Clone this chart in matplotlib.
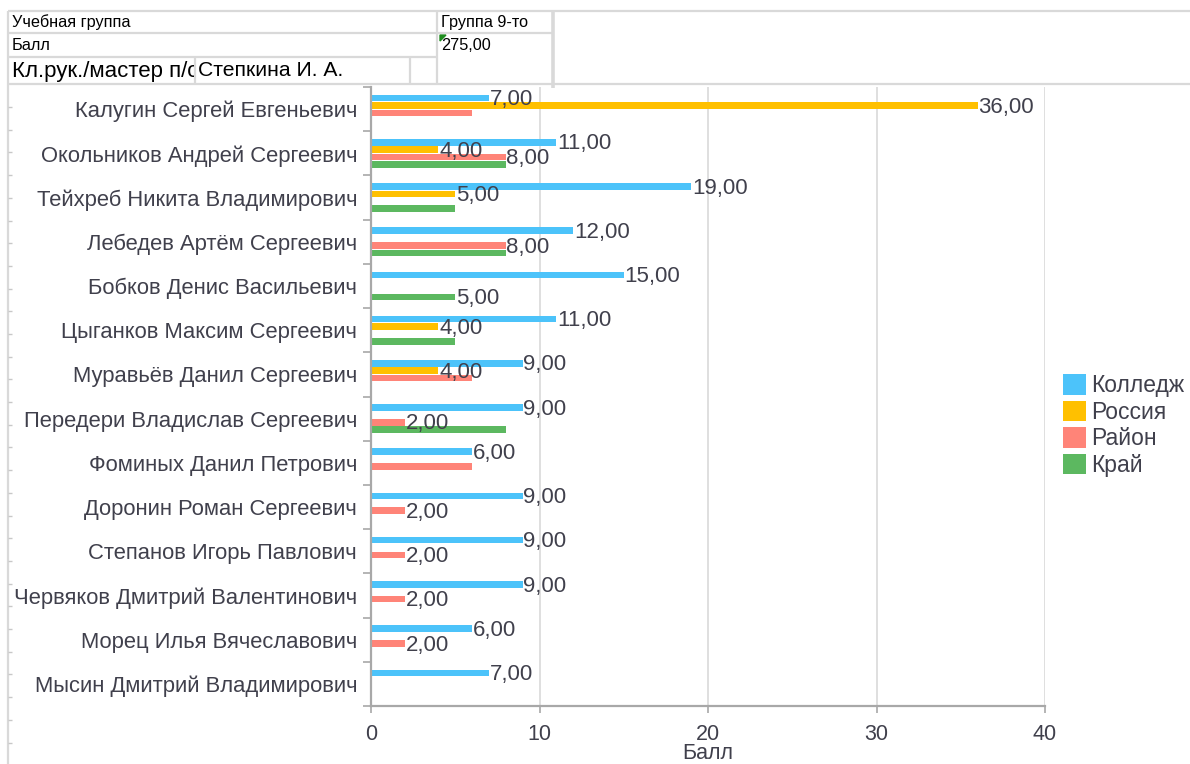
import numpy as np
import matplotlib
matplotlib.use('Agg')
import matplotlib.pyplot as plt
from matplotlib.lines import Line2D
from matplotlib.patches import Polygon
from matplotlib.transforms import Bbox

plt.rcParams['font.family'] = ['Liberation Sans', 'DejaVu Sans']

nan = np.nan
students = [
    'Калугин Сергей Евгеньевич',
    'Окольников Андрей Сергеевич',
    'Тейхреб Никита Владимирович',
    'Лебедев Артём Сергеевич',
    'Бобков Денис Васильевич',
    'Цыганков Максим Сергеевич',
    'Муравьёв Данил Сергеевич',
    'Передери Владислав Сергеевич',
    'Фоминых Данил Петрович',
    'Доронин Роман Сергеевич',
    'Степанов Игорь Павлович',
    'Червяков Дмитрий Валентинович',
    'Морец Илья Вячеславович',
    'Мысин Дмитрий Владимирович',
]
series_names = ['Колледж', 'Россия', 'Район', 'Край']
kolledzh = [7, 11, 19, 12, 15, 11, 9, 9, 6, 9, 9, 9, 6, 7]
rossiya = [36, 4, 5, nan, nan, 4, 4, nan, nan, nan, nan, nan, nan, nan]
rayon = [6, 8, nan, 8, nan, nan, 6, 2, 6, 2, 2, 2, 2, nan]
kray = [nan, 8, 5, 8, 5, 5, nan, 8, nan, nan, nan, nan, nan, nan]
xticks = [0, 10, 20, 30, 40]
xlabel = 'Балл'

hdr_group_label = 'Учебная группа'
hdr_group_value = 'Группа 9-то'
hdr_score_label = 'Балл'
hdr_score_value = '275,00'
hdr_teacher_label = 'Кл.рук./мастер п/о'
hdr_teacher_value = 'Степкина И. А.'

colors = ['#4CC3FA', '#FFC000', '#FF8478', '#5CB860']
text_col = '#40404C'
grid_col = '#DCDCDC'
axis_col = '#A8A8A8'
cell_col = '#D9D9D9'

W, H = 1190, 764
fig = plt.figure(figsize=(W / 100, H / 100), dpi=100)
fig.patch.set_facecolor('white')


def px_line(x0, y0, x1, y1, lw=1.6, color=cell_col):
    fig.add_artist(Line2D([x0 / W, x1 / W], [1 - y0 / H, 1 - y1 / H],
                          transform=fig.transFigure, color=color, lw=lw,
                          solid_capstyle='butt'))


def px_text(x, y, s, size, clip_to=None):
    t = fig.text(x / W, 1 - y / H, s, fontsize=size, va='center', ha='left',
                 color='black')
    if clip_to is not None:
        x0, y0, x1, y1 = clip_to
        t.set_clip_box(Bbox.from_extents(x0, H - y1, x1, H - y0))
        t.set_clip_on(True)
    return t


# ---- spreadsheet header ----
px_line(8, 11, W, 11)
px_line(8, 33, 553, 33)
px_line(8, 57, 437, 57)
px_line(8, 84, W, 84)
px_line(8, 11, 8, H)
px_line(437, 11, 437, 84)
px_line(553, 11, 553, 88, lw=2.6)
px_line(195, 57, 195, 84)
px_line(410, 57, 410, 84)
for yy in np.arange(107, H, 22.7):
    px_line(8, yy, 12, yy, lw=1.0, color='#C8C8C8')

px_text(12, 22, hdr_group_label, 11.7)
px_text(441, 22, hdr_group_value, 11.7)
px_text(12, 45, hdr_score_label, 11.7)
px_text(441, 45, hdr_score_value, 11.7)
px_text(12, 71, hdr_teacher_label, 16.0, clip_to=(9, 58, 194, 84))
px_text(198, 71, hdr_teacher_value, 15.2)
fig.add_artist(Polygon([[440 / W, 1 - 35 / H], [446 / W, 1 - 35 / H],
                        [440 / W, 1 - 41 / H]], closed=True,
                       transform=fig.transFigure, color='#1E8C1E'))

# ---- chart ----
ax = fig.add_axes([371 / W, 1 - 706 / H, (1045 - 371) / W, (706 - 87) / H])
n = len(students)
y = np.arange(n)
series = [kolledzh, rossiya, rayon, kray]
slot = 0.167
bh = 0.148

labels = [[] for _ in range(n)]
for si, (vals, name, c) in enumerate(zip(series, series_names, colors)):
    vals = np.array(vals, dtype=float)
    off = (si - 1.5) * slot
    m = ~np.isnan(vals)
    ax.barh(y[m] + off, vals[m], height=bh, color=c, label=name, zorder=2,
            linewidth=0)
    for yi, v in zip(y[m], vals[m]):
        tx = ax.annotate(f'{v:.2f}'.replace('.', ','), xy=(v, yi + off),
                         xytext=(0.5, -1.2), textcoords='offset points',
                         ha='left', va='center', fontsize=16,
                         color=text_col, zorder=5)
        labels[yi].append(tx)

ax.set_xlim(0, 40)
ax.set_ylim(n - 0.5, -0.5)
ax.set_xticks(xticks)
ax.set_xticklabels([str(v) for v in xticks])
ax.set_yticks(y)
ax.set_yticklabels(students)
ax.set_yticks(np.arange(n + 1) - 0.5, minor=True)
ax.tick_params(axis='y', which='major', length=0, pad=10, labelsize=15.8,
               labelcolor=text_col)
ax.tick_params(axis='y', which='minor', length=6, width=1.2, color=axis_col,
               direction='out')
ax.tick_params(axis='x', length=5, width=1.2, color=axis_col, pad=8,
               labelsize=15.5, labelcolor=text_col)
ax.xaxis.grid(True, color=grid_col, lw=1.3, zorder=0)
ax.set_axisbelow(True)
for s in ['top', 'right']:
    ax.spines[s].set_visible(False)
for s in ['left', 'bottom']:
    ax.spines[s].set_color(axis_col)
    ax.spines[s].set_linewidth(1.6)
ax.set_xlabel(xlabel, fontsize=15.5, color=text_col, labelpad=-1.5)

fig.legend(loc='upper left', bbox_to_anchor=(1063 / W, 1 - 374 / H),
           frameon=False, fontsize=16.5, handlelength=1.0,
           handleheight=1.0, handletextpad=0.22, labelspacing=0.15,
           borderpad=0, borderaxespad=0, labelcolor=text_col)

# hide value labels that overlap an earlier label in the same group
fig.canvas.draw()
r = fig.canvas.get_renderer()
for grp in labels:
    kept = []
    for tx in grp:
        bb = tx.get_window_extent(r)
        bb = bb.from_extents(bb.x0, bb.y0 - 2, bb.x1, bb.y1 + 2)
        if any(bb.overlaps(k) for k in kept):
            tx.set_visible(False)
        else:
            kept.append(bb)

fig.savefig('out.png', dpi=100, facecolor='white')
